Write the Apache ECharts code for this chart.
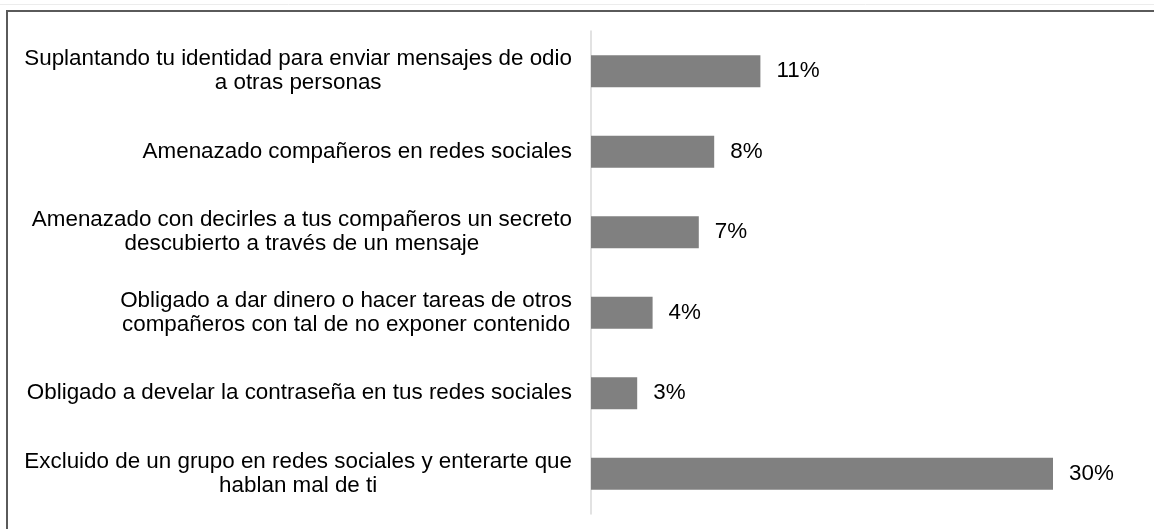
<!DOCTYPE html>
<html>
<head>
<meta charset="utf-8">
<script src="https://cdn.jsdelivr.net/npm/echarts@6/dist/echarts.min.js"></script>
<style>
  html, body { margin: 0; padding: 0; background: #fff; }
  #chart { width: 1154px; height: 529px; }
</style>
</head>
<body>
<div id="chart"></div>
<script>
// Survey answers: each label line is kept separately so the wrapped lines can be centered
const categories = [
  ['Suplantando tu identidad para enviar mensajes de odio', 'a otras personas'],
  ['Amenazado compañeros en redes sociales'],
  ['Amenazado con decirles a tus compañeros un secreto', 'descubierto a través de un mensaje'],
  ['Obligado a dar dinero o hacer tareas de otros', 'compañeros con tal de no exponer contenido'],
  ['Obligado a develar la contraseña en tus redes sociales'],
  ['Excluido de un grupo en redes sociales y enterarte que', 'hablan mal de ti']
];
const percentages = [11, 8, 7, 4, 3, 30];

const FONT = "'Liberation Sans', Arial, sans-serif";
const chart = echarts.init(document.getElementById('chart'), null, { renderer: 'canvas' });

chart.setOption({
  backgroundColor: '#ffffff',
  animation: false,
  grid: { left: 591, right: 101, top: 31, bottom: 15, containLabel: false },
  xAxis: {
    type: 'value',
    min: 0,
    max: 30,
    show: false
  },
  yAxis: {
    type: 'category',
    inverse: true,
    data: categories.map(lines => lines.join('\n')),
    axisLine: { show: true, lineStyle: { color: '#d9d9d9', width: 1.5 } },
    axisTick: { show: false },
    splitLine: { show: false },
    axisLabel: {
      margin: 19,
      formatter: v => v.split('\n').map(l => '{c|' + l + '}').join('\n'),
      rich: {
        c: { align: 'center', fontSize: 22.4, lineHeight: 24, fontFamily: FONT, color: '#000000' }
      }
    }
  },
  series: [{
    type: 'bar',
    data: percentages,
    barWidth: '40%',
    itemStyle: { color: '#808080' },
    label: {
      show: true,
      position: 'right',
      distance: 16,
      formatter: p => p.value + '%',
      fontSize: 22.4,
      fontFamily: FONT,
      color: '#000000'
    }
  }],
  graphic: [
    { type: 'line', shape: { x1: 0, y1: 4.5, x2: 1154, y2: 4.5 }, style: { stroke: '#ececec', lineWidth: 1 }, silent: true },
    { type: 'line', shape: { x1: 6, y1: 11, x2: 1154, y2: 11 }, style: { stroke: '#5a5a5a', lineWidth: 2 }, silent: true },
    { type: 'line', shape: { x1: 7, y1: 10, x2: 7, y2: 529 }, style: { stroke: '#5a5a5a', lineWidth: 2 }, silent: true }
  ]
});
</script>
</body>
</html>
